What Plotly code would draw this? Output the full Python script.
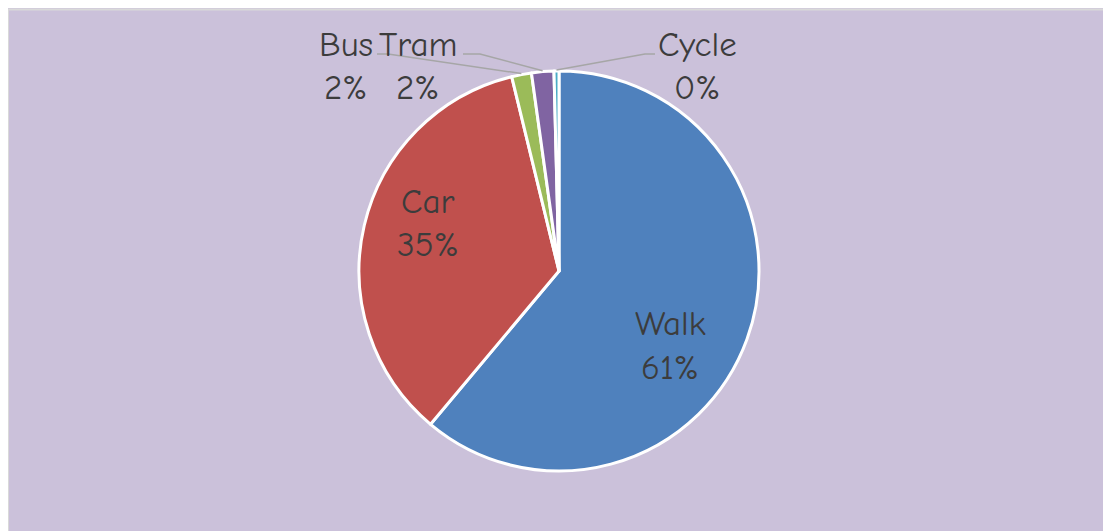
import math
import plotly.graph_objects as go

# ---- data ----
labels = ["Walk", "Car", "Bus", "Tram", "Cycle"]
values = [61.1, 35.1, 1.6, 1.8, 0.4]
colors = ["#4F81BD", "#C0504D", "#9BBB59", "#8064A2", "#4BACC6"]

# ---- layout constants (figure pixels; page adds an 8px body margin) ----
W, H = 1095, 523
CX, CY, R = 551, 263, 200
FONT = "Comic Sans MS, Comic Neue, Lato, sans-serif"
FS = 35
TXT = "#3C3C3C"
# label anchor (name line centre) in px; percent line is 44px lower
label_pos = {"Walk": (662, 315), "Car": (420, 193), "Bus": (338, 36),
             "Tram": (410, 36), "Cycle": (689, 36)}
# leader-line start (label side) for outside labels: (start, elbow)
leader = {"Bus": ((369, 46), (380, 46)), "Tram": ((455, 46), (472, 46)),
          "Cycle": ((647, 46), (637, 46))}


def px(x):
    return x / W


def py(y):
    return 1 - y / H


total = sum(values)

fig = go.Figure(go.Pie(
    labels=labels, values=values, sort=False, direction="clockwise", rotation=0,
    marker=dict(colors=colors, line=dict(color="white", width=3)),
    textinfo="none", hoverinfo="label+percent", showlegend=False,
    domain=dict(x=[px(CX - R), px(CX + R)], y=[py(CY + R), py(CY - R)]),
))

shapes = [dict(type="rect", xref="paper", yref="paper", layer="below",
               x0=px(0), x1=1.05, y0=-0.05, y1=py(1.5),
               fillcolor="#CBC1DA", line=dict(color="#D9D9D9", width=2))]
annotations = []
cum = 0.0
for lab, v in zip(labels, values):
    mid = (cum + v / 2) / total * 2 * math.pi
    cum += v
    pct = f"{round(v / total * 100)}%"
    lx, ly = label_pos[lab]
    annotations.append(dict(x=px(lx), y=py(ly), xref="paper", yref="paper", text=lab,
                            showarrow=False, xanchor="center", yanchor="middle",
                            font=dict(family=FONT, size=FS, color=TXT)))
    annotations.append(dict(x=px(lx), y=py(ly + 44), xref="paper", yref="paper", text=pct,
                            showarrow=False, xanchor="center", yanchor="middle",
                            font=dict(family=FONT, size=FS, color=TXT)))
    if lab in leader:
        (sx, sy), (ex, ey) = leader[lab]
        tx = CX + (R + 1) * math.sin(mid)
        ty = CY - (R + 1) * math.cos(mid)
        path = f"M {px(sx)} {py(sy)} L {px(ex)} {py(ey)} L {px(tx)} {py(ty)}"
        shapes.append(dict(type="path", xref="paper", yref="paper", path=path,
                           line=dict(color="#A6A6A6", width=1.5)))

fig.update_layout(
    width=W, height=H, margin=dict(l=0, r=0, t=0, b=0),
    paper_bgcolor="#CBC1DA", plot_bgcolor="#CBC1DA",
    shapes=shapes, annotations=annotations,
)
fig.write_html("out.html", post_script=(
    "document.body.style.marginBottom='0px';document.body.style.marginRight='0px';"
    "document.documentElement.style.overflow='hidden';"))
